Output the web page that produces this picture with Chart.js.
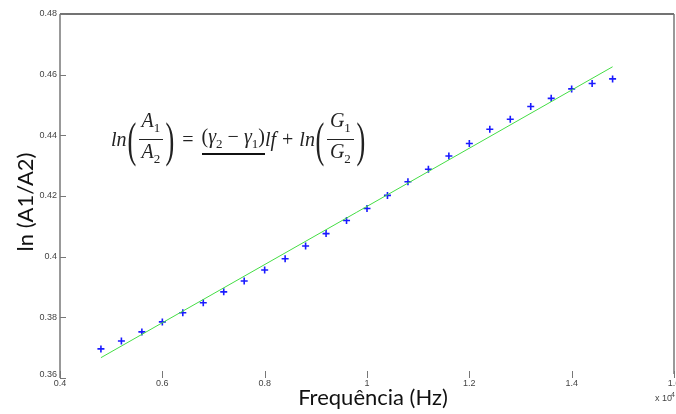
<!DOCTYPE html>
<html>
<head>
<meta charset="utf-8">
<script src="https://cdn.jsdelivr.net/npm/chart.js@4/dist/chart.umd.min.js"></script>
<style>
  body { margin: 0; background: #fff; }
  #wrap { position: relative; width: 676px; height: 414px; }
  #eq {
    position: absolute; left: 111px; top: 109px;
    font-family: "Liberation Serif", "DejaVu Serif", serif;
    font-size: 20px; color: #222;
    display: flex; align-items: center; white-space: nowrap;
  }
  #eq i { font-style: italic; }
  .fr { display: inline-flex; flex-direction: column; align-items: center; margin: 0 2px; line-height: 22px; }
  .fr .num { border-bottom: 1px solid #222; padding: 0 3px; }
  .par { font-size: 48px; font-weight: 300; transform: scaleX(0.55); display: inline-block; margin: 0 -3px; line-height: 52px; }
  .ul { border-bottom: 2px solid #111; padding-bottom: 1px; }
  sub { font-size: 13px; font-style: normal; }
</style>
</head>
<body>
<div id="wrap">
  <canvas id="chart" width="676" height="414"></canvas>
  <div id="eq">
    <i>ln</i><span class="par">(</span>
    <span class="fr"><span class="num"><i>A</i><sub>1</sub></span><span><i>A</i><sub>2</sub></span></span>
    <span class="par">)</span>
    <span style="margin:0 8px 0 7px">=</span>
    <span class="ul">(<i>γ</i><sub>2</sub>&nbsp;−&nbsp;<i>γ</i><sub>1</sub>)</span><i>lf</i>
    <span style="margin:0 6px">+</span>
    <i>ln</i><span class="par">(</span>
    <span class="fr"><span class="num"><i>G</i><sub>1</sub></span><span><i>G</i><sub>2</sub></span></span>
    <span class="par">)</span>
  </div>
</div>
<script>
// measured points: frequency (Hz) and ln(A1/A2)
const freq = [4800, 5200, 5600, 6000, 6400, 6800, 7200, 7600, 8000, 8400, 8800, 9200, 9600,
  10000, 10400, 10800, 11200, 11600, 12000, 12400, 12800, 13200, 13600, 14000, 14400, 14800];
const lnRatio = [0.3696, 0.3722, 0.3752, 0.3785, 0.3815, 0.3848, 0.3884, 0.3920, 0.3956, 0.3993,
  0.4035, 0.4076, 0.4119, 0.4159, 0.4202, 0.4247, 0.4288, 0.4332, 0.4373, 0.4420,
  0.4453, 0.4495, 0.4522, 0.4553, 0.4571, 0.4586];
// linear fit end points
const fitFreq = [4800, 14800];
const fitVals = [0.3667, 0.4626];

const xTicks = [4000, 6000, 8000, 10000, 12000, 14000, 16000];
const xTickLabels = ["0.4", "0.6", "0.8", "1", "1.2", "1.4", "1.6"];
const yTickLabels = ["0.36", "0.38", "0.4", "0.42", "0.44", "0.46", "0.48"];

const frame = {
  id: "frame",
  afterDraw(chart) {
    const ctx = chart.ctx;
    const { left, right, top, bottom } = chart.chartArea;
    const xs = chart.scales.x, ys = chart.scales.y;
    ctx.save();
    // box
    ctx.strokeStyle = "#444"; ctx.lineWidth = 1.5;
    ctx.beginPath(); ctx.moveTo(left, top); ctx.lineTo(right, top); ctx.stroke();
    ctx.strokeStyle = "#999"; ctx.lineWidth = 2;
    ctx.beginPath(); ctx.moveTo(left, top); ctx.lineTo(left, bottom); ctx.stroke();
    ctx.strokeStyle = "#777"; ctx.lineWidth = 1.5;
    ctx.beginPath(); ctx.moveTo(right, top); ctx.lineTo(right, bottom - 4); ctx.stroke();
    // inward ticks
    ctx.strokeStyle = "#777"; ctx.lineWidth = 1;
    xs.ticks.forEach((t, i) => {
      const px = Math.round(xs.getPixelForTick(i)) + 0.5;
      ctx.beginPath(); ctx.moveTo(px, bottom); ctx.lineTo(px, bottom - 7); ctx.stroke();
    });
    ys.ticks.forEach((t, i) => {
      const py = Math.round(ys.getPixelForTick(i)) + 0.5;
      ctx.beginPath(); ctx.moveTo(left, py); ctx.lineTo(left + 6, py); ctx.stroke();
    });
    // tick labels
    ctx.fillStyle = "#444"; ctx.font = "9px 'Liberation Sans', Arial, sans-serif";
    ctx.textAlign = "center"; ctx.textBaseline = "top";
    xs.ticks.forEach((t, i) => {
      ctx.fillText(xTickLabels[i], xs.getPixelForTick(i), bottom + 1);
    });
    ctx.textAlign = "right"; ctx.textBaseline = "middle";
    ys.ticks.forEach((t, i) => {
      const py = ys.getPixelForTick(i);
      ctx.fillText(yTickLabels[i], left - 3, i === 0 ? py - 3 : py);
    });
    ctx.textAlign = "left";
    ctx.fillText("x 10", right - 19, bottom + 21);
    ctx.font = "7px 'Liberation Sans', Arial, sans-serif";
    ctx.fillText("4", right - 3, bottom + 17);
    // axis titles
    ctx.fillStyle = "#111";
    ctx.font = "22px Lato, 'Open Sans', sans-serif";
    ctx.textAlign = "center"; ctx.textBaseline = "middle";
    ctx.fillText("Frequência (Hz)", 373, 398);
    ctx.translate(26, 202); ctx.rotate(-Math.PI / 2);
    ctx.fillText("ln (A1/A2)", 0, 0);
    ctx.restore();
  }
};

new Chart(document.getElementById("chart"), {
  type: "scatter",
  data: {
    datasets: [
      {
        type: "line",
        label: "ajuste",
        data: fitFreq.map((f, i) => ({ x: f, y: fitVals[i] })),
        borderColor: "#44dd44",
        borderWidth: 1,
        pointRadius: 0,
        fill: false
      },
      {
        label: "dados",
        data: freq.map((f, i) => ({ x: f, y: lnRatio[i] })),
        pointStyle: "cross",
        pointRadius: 3.5,
        borderColor: "#1a1aff",
        borderWidth: 1.6,
        backgroundColor: "#1a1aff"
      }
    ]
  },
  options: {
    responsive: false,
    animation: false,
    layout: { autoPadding: false, padding: { top: 14, right: 2, left: 0, bottom: 0 } },
    plugins: { legend: { display: false }, tooltip: { enabled: false } },
    scales: {
      x: {
        type: "linear", min: 4000, max: 16000,
        afterBuildTicks: (s) => { s.ticks = xTicks.map(v => ({ value: v })); },
        afterFit: (s) => { s.height = 36; },
        grid: { display: false }, border: { display: false },
        ticks: { display: false }
      },
      y: {
        min: 0.36, max: 0.48,
        ticks: { display: false, stepSize: 0.02 },
        afterFit: (s) => { s.width = 60; },
        grid: { display: false }, border: { display: false }
      }
    }
  },
  plugins: [frame]
});
</script>
</body>
</html>
